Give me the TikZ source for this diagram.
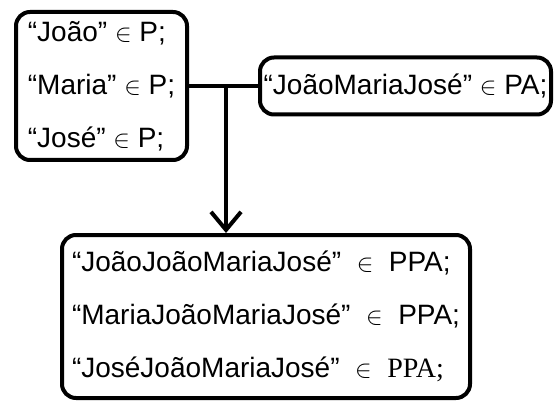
\documentclass[tikz,border=0pt]{standalone}
\usepackage{fontspec}
\setmainfont{Liberation Sans}
\newfontfamily\serifpart{Liberation Serif}
\usetikzlibrary{arrows.meta,positioning}
\tikzset{
	set/.style = {draw, fill=white, rectangle, rounded corners=14pt, line width=4pt,
		align=left, inner sep=0pt, font=\fontsize{28}{53}\selectfont},
	%,
	tmp/.style  = {coordinate},
	link/.style = {line width=4pt},
	vec->/.style = {line width=4pt, -{Straight Barb[length=18pt, width=30pt, line width=4pt]}}
}

\begin{document}
\begin{tikzpicture}[x=1pt, y=-1pt]
    \useasboundingbox (0,0) rectangle (556,403);
    % the three sets of words
    \node [set, minimum width=171pt, minimum height=148pt] (names) at (101.5,86)
        {“João” $\in$ P;\\“Maria” $\in$ P;\\“José” $\in$ P;};
    \node [set, minimum width=291pt, minimum height=57pt] (concat) at (405.5,86)
        {“JoãoMariaJosé” $\in$ PA;};
    \node [set, minimum width=408pt, minimum height=163pt] (prod) at (266,316.5)
        {“JoãoJoãoMariaJosé”\ \ $\in$\ \ PPA;\\
         “MariaJoãoMariaJosé”\ \ $\in$\ \ PPA;\\
         “JoséJoãoMariaJosé”\ \ $\in$\ \ {\serifpart PPA;}};
    % join and arrow down
    \node [tmp] (split) at (226,86) {};
    \draw [link] (names.east) -- (concat.west);
    \draw [vec->] (split) -- (split |- prod.north);
\end{tikzpicture}
\end{document}
